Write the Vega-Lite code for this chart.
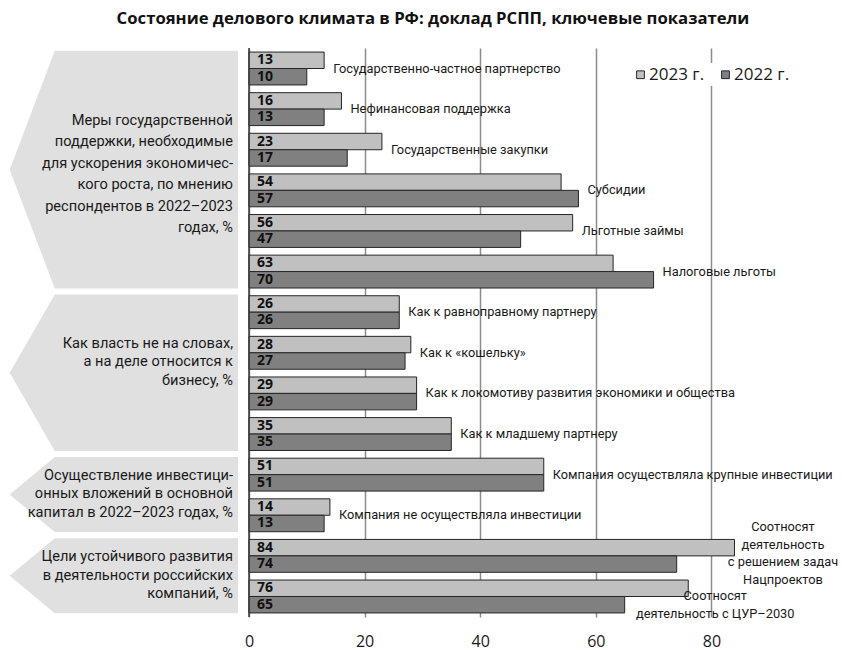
{
  "$schema": "https://vega.github.io/schema/vega-lite/v6.json",
  "width": 842,
  "height": 569,
  "autosize": {"type": "none"},
  "padding": {"top": 48, "left": 0, "right": 0, "bottom": 33},
  "background": "white",
  "title": {
    "text": "Состояние делового климата в РФ: доклад РСПП, ключевые показатели",
    "font": "Open Sans",
    "fontSize": 16.7,
    "fontWeight": "bold",
    "color": "#111111",
    "anchor": "middle",
    "dx": 12,
    "offset": 20
  },
  "config": {
    "view": {"stroke": null},
    "font": "Roboto",
    "text": {"font": "Roboto", "color": "#1a1a1a"}
  },
  "datasets": {
    "bars": [
      {"group": "Меры государственной\nподдержки, необходимые\nдля ускорения экономичес-\nкого роста, по мнению\nреспондентов в 2022–2023\nгодах, %", "item": "Государственно-частное партнерство", "year": "2023 г.", "value": 13},
      {"group": "Меры государственной\nподдержки, необходимые\nдля ускорения экономичес-\nкого роста, по мнению\nреспондентов в 2022–2023\nгодах, %", "item": "Государственно-частное партнерство", "year": "2022 г.", "value": 10},
      {"group": "Меры государственной\nподдержки, необходимые\nдля ускорения экономичес-\nкого роста, по мнению\nреспондентов в 2022–2023\nгодах, %", "item": "Нефинансовая поддержка", "year": "2023 г.", "value": 16},
      {"group": "Меры государственной\nподдержки, необходимые\nдля ускорения экономичес-\nкого роста, по мнению\nреспондентов в 2022–2023\nгодах, %", "item": "Нефинансовая поддержка", "year": "2022 г.", "value": 13},
      {"group": "Меры государственной\nподдержки, необходимые\nдля ускорения экономичес-\nкого роста, по мнению\nреспондентов в 2022–2023\nгодах, %", "item": "Государственные закупки", "year": "2023 г.", "value": 23},
      {"group": "Меры государственной\nподдержки, необходимые\nдля ускорения экономичес-\nкого роста, по мнению\nреспондентов в 2022–2023\nгодах, %", "item": "Государственные закупки", "year": "2022 г.", "value": 17},
      {"group": "Меры государственной\nподдержки, необходимые\nдля ускорения экономичес-\nкого роста, по мнению\nреспондентов в 2022–2023\nгодах, %", "item": "Субсидии", "year": "2023 г.", "value": 54},
      {"group": "Меры государственной\nподдержки, необходимые\nдля ускорения экономичес-\nкого роста, по мнению\nреспондентов в 2022–2023\nгодах, %", "item": "Субсидии", "year": "2022 г.", "value": 57},
      {"group": "Меры государственной\nподдержки, необходимые\nдля ускорения экономичес-\nкого роста, по мнению\nреспондентов в 2022–2023\nгодах, %", "item": "Льготные займы", "year": "2023 г.", "value": 56},
      {"group": "Меры государственной\nподдержки, необходимые\nдля ускорения экономичес-\nкого роста, по мнению\nреспондентов в 2022–2023\nгодах, %", "item": "Льготные займы", "year": "2022 г.", "value": 47},
      {"group": "Меры государственной\nподдержки, необходимые\nдля ускорения экономичес-\nкого роста, по мнению\nреспондентов в 2022–2023\nгодах, %", "item": "Налоговые льготы", "year": "2023 г.", "value": 63},
      {"group": "Меры государственной\nподдержки, необходимые\nдля ускорения экономичес-\nкого роста, по мнению\nреспондентов в 2022–2023\nгодах, %", "item": "Налоговые льготы", "year": "2022 г.", "value": 70},
      {"group": "Как власть не на словах,\nа на деле относится к\nбизнесу, %", "item": "Как к равноправному партнеру", "year": "2023 г.", "value": 26},
      {"group": "Как власть не на словах,\nа на деле относится к\nбизнесу, %", "item": "Как к равноправному партнеру", "year": "2022 г.", "value": 26},
      {"group": "Как власть не на словах,\nа на деле относится к\nбизнесу, %", "item": "Как к «кошельку»", "year": "2023 г.", "value": 28},
      {"group": "Как власть не на словах,\nа на деле относится к\nбизнесу, %", "item": "Как к «кошельку»", "year": "2022 г.", "value": 27},
      {"group": "Как власть не на словах,\nа на деле относится к\nбизнесу, %", "item": "Как к локомотиву развития экономики и общества", "year": "2023 г.", "value": 29},
      {"group": "Как власть не на словах,\nа на деле относится к\nбизнесу, %", "item": "Как к локомотиву развития экономики и общества", "year": "2022 г.", "value": 29},
      {"group": "Как власть не на словах,\nа на деле относится к\nбизнесу, %", "item": "Как к младшему партнеру", "year": "2023 г.", "value": 35},
      {"group": "Как власть не на словах,\nа на деле относится к\nбизнесу, %", "item": "Как к младшему партнеру", "year": "2022 г.", "value": 35},
      {"group": "Осуществление инвестици-\nонных вложений в основной\nкапитал в 2022–2023 годах, %", "item": "Компания осуществляла крупные инвестиции", "year": "2023 г.", "value": 51},
      {"group": "Осуществление инвестици-\nонных вложений в основной\nкапитал в 2022–2023 годах, %", "item": "Компания осуществляла крупные инвестиции", "year": "2022 г.", "value": 51},
      {"group": "Осуществление инвестици-\nонных вложений в основной\nкапитал в 2022–2023 годах, %", "item": "Компания не осуществляла инвестиции", "year": "2023 г.", "value": 14},
      {"group": "Осуществление инвестици-\nонных вложений в основной\nкапитал в 2022–2023 годах, %", "item": "Компания не осуществляла инвестиции", "year": "2022 г.", "value": 13},
      {"group": "Цели устойчивого развития\nв деятельности российских\nкомпаний, %", "item": "Соотносят\nдеятельность\nс решением задач\nНацпроектов", "year": "2023 г.", "value": 84},
      {"group": "Цели устойчивого развития\nв деятельности российских\nкомпаний, %", "item": "Соотносят\nдеятельность\nс решением задач\nНацпроектов", "year": "2022 г.", "value": 74},
      {"group": "Цели устойчивого развития\nв деятельности российских\nкомпаний, %", "item": "Соотносят\nдеятельность с ЦУР–2030", "year": "2023 г.", "value": 76},
      {"group": "Цели устойчивого развития\nв деятельности российских\nкомпаний, %", "item": "Соотносят\nдеятельность с ЦУР–2030", "year": "2022 г.", "value": 65}
    ]
  },
  "resolve": {"scale": {"y": "independent"}},
  "layer": [
    {
      "data": {"name": "bars"},
      "transform": [
        {"filter": "datum.year == '2023 г.'"},
        {"window": [{"op": "row_number", "as": "idx"}]},
        {"aggregate": [{"op": "min", "field": "idx", "as": "i0"}, {"op": "max", "field": "idx", "as": "i1"}], "groupby": ["group"]},
        {"calculate": "datum.i0 - 1.03", "as": "top"},
        {"calculate": "datum.i1 - 0.18", "as": "bot"},
        {"calculate": "(datum.top + datum.bot) / 2", "as": "mid"}
      ],
      "layer": [
        {
          "transform": [
            {"fold": ["top", "mid", "bot"], "as": ["pt", "yy"]},
            {"calculate": "datum.pt == 'mid' ? -41.4 : -33.6", "as": "xl"},
            {"calculate": "-1.9", "as": "xr"}
          ],
          "mark": {"type": "area", "orient": "horizontal", "color": "#e0e0e0"},
          "encoding": {
            "y": {"field": "yy", "type": "quantitative", "scale": {"domain": [-0.1, 13.91], "reverse": true, "nice": false, "zero": false}, "axis": null},
            "x": {
              "field": "xl", "type": "quantitative", "stack": null,
              "scale": {"domain": [-43.08, 102.6], "nice": false, "zero": false},
              "axis": {
                "values": [0, 20, 40, 60, 80], "grid": true, "gridColor": "#8c8c8c", "gridWidth": 1.5,
                "domain": false, "ticks": false, "labelFontSize": 16, "labelFont": "Open Sans",
                "labelColor": "#1a1a1a", "labelPadding": 16, "title": null
              }
            },
            "x2": {"field": "xr"},
            "detail": {"field": "group"}
          }
        },
        {
          "transform": [{"filter": "indexof(datum.group, 'Меры') == 0"}],
          "mark": {"type": "text", "align": "right", "baseline": "middle", "dx": -5, "dy": -49, "fontSize": 14.6, "lineBreak": "\n", "lineHeight": 21.5},
          "encoding": {
            "y": {"field": "mid", "type": "quantitative"},
            "x": {"datum": -1.9},
            "text": {"field": "group"}
          }
        },
        {
          "transform": [{"filter": "indexof(datum.group, 'Как власть') == 0"}],
          "mark": {"type": "text", "align": "right", "baseline": "middle", "dx": -5, "dy": -29, "fontSize": 14.6, "lineBreak": "\n", "lineHeight": 18.5},
          "encoding": {
            "y": {"field": "mid", "type": "quantitative"},
            "x": {"datum": -1.9},
            "text": {"field": "group"}
          }
        },
        {
          "transform": [{"filter": "indexof(datum.group, 'Меры') != 0 && indexof(datum.group, 'Как власть') != 0"}],
          "mark": {"type": "text", "align": "right", "baseline": "middle", "dx": -5, "dy": -18.5, "fontSize": 14.6, "lineBreak": "\n", "lineHeight": 18.3},
          "encoding": {
            "y": {"field": "mid", "type": "quantitative"},
            "x": {"datum": -1.9},
            "text": {"field": "group"}
          }
        }
      ]
    },
    {
      "data": {"name": "bars"},
      "layer": [
        {
          "mark": {"type": "bar", "stroke": "#262626", "strokeWidth": 1},
          "encoding": {
            "y": {"field": "item", "type": "nominal", "sort": null, "scale": {"paddingInner": 0.19, "paddingOuter": 0.1}, "axis": null},
            "yOffset": {"field": "year", "sort": ["2023 г.", "2022 г."]},
            "x": {
              "field": "value", "type": "quantitative",
              "scale": {"domain": [-43.08, 102.6], "nice": false, "zero": false},
              "axis": {
                "values": [0, 20, 40, 60, 80], "grid": true, "gridColor": "#8c8c8c", "gridWidth": 1.5,
                "domain": false, "ticks": false, "labelFontSize": 16, "labelFont": "Open Sans",
                "labelColor": "#1a1a1a", "labelPadding": 16, "title": null
              }
            },
            "x2": {"datum": 0},
            "fill": {
              "field": "year", "type": "nominal",
              "scale": {"domain": ["2023 г.", "2022 г."], "range": ["#c0c0c0", "#808080"]},
              "legend": {
                "orient": "none", "legendX": 629, "legendY": 15, "direction": "horizontal", "title": null,
                "fillColor": "white", "padding": 3, "labelFontSize": 17, "labelFont": "Open Sans",
                "labelColor": "#1a1a1a", "symbolType": "square", "symbolSize": 60,
                "symbolStrokeColor": "#262626", "symbolStrokeWidth": 1, "columnPadding": 12, "labelOffset": 0
              }
            }
          }
        },
        {
          "mark": {"type": "text", "align": "left", "baseline": "middle", "dx": 8, "font": "Open Sans", "fontSize": 14, "fontWeight": "bold", "color": "#111111"},
          "encoding": {
            "y": {"field": "item", "type": "nominal", "sort": null},
            "yOffset": {"field": "year", "sort": ["2023 г.", "2022 г."]},
            "x": {"datum": 0},
            "text": {"field": "value", "type": "quantitative"}
          }
        },
        {
          "transform": [
            {"aggregate": [{"op": "max", "field": "value", "as": "vmax"}], "groupby": ["item"]},
            {"filter": "indexof(datum.item, '\\n') < 0"}
          ],
          "mark": {"type": "text", "align": "left", "baseline": "middle", "dx": 9, "fontSize": 12.8},
          "encoding": {
            "y": {"field": "item", "type": "nominal", "sort": null},
            "x": {"field": "vmax", "type": "quantitative"},
            "text": {"field": "item"}
          }
        },
        {
          "transform": [
            {"aggregate": [{"op": "max", "field": "value", "as": "vmax"}], "groupby": ["item"]},
            {"filter": "indexof(datum.item, 'Нацпроектов') >= 0"}
          ],
          "mark": {"type": "text", "align": "center", "baseline": "middle", "dx": 48.5, "dy": -29, "fontSize": 12.8, "lineBreak": "\n", "lineHeight": 17.7},
          "encoding": {
            "y": {"field": "item", "type": "nominal", "sort": null},
            "x": {"field": "vmax", "type": "quantitative"},
            "text": {"field": "item"}
          }
        },
        {
          "transform": [
            {"aggregate": [{"op": "max", "field": "value", "as": "vmax"}], "groupby": ["item"]},
            {"filter": "indexof(datum.item, 'ЦУР') >= 0"}
          ],
          "mark": {"type": "text", "align": "center", "baseline": "middle", "dx": 27, "dy": 0, "fontSize": 12.8, "lineBreak": "\n", "lineHeight": 17.2},
          "encoding": {
            "y": {"field": "item", "type": "nominal", "sort": null},
            "x": {"field": "vmax", "type": "quantitative"},
            "text": {"field": "item"}
          }
        },
        {
          "data": {"values": [{}]},
          "mark": {"type": "rule", "color": "#3a3a3a", "strokeWidth": 1.5},
          "encoding": {"x": {"datum": 0}}
        }
      ]
    }
  ]
}
